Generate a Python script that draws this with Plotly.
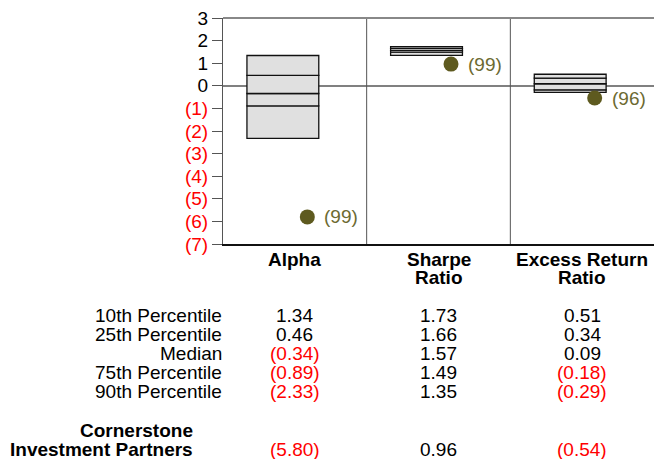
import plotly.graph_objects as go

# Percentile ranges for each statistic (top of box = 10th, bottom = 90th)
categories = ["Alpha", "Sharpe\nRatio", "Excess Return\nRatio"]
row_labels = ["10th Percentile", "25th Percentile", "Median", "75th Percentile", "90th Percentile"]
p10 = [1.34, 1.73, 0.51]
p25 = [0.46, 1.66, 0.34]
median = [-0.34, 1.57, 0.09]
p75 = [-0.89, 1.49, -0.18]
p90 = [-2.33, 1.35, -0.29]
fund_name = "Cornerstone\nInvestment Partners"
fund_values = [-5.80, 0.96, -0.54]
fund_ranks = ["(99)", "(99)", "(96)"]
y_ticks = [3, 2, 1, 0, -1, -2, -3, -4, -5, -6, -7]

FONT = "Liberation Sans, Arial, sans-serif"
RED = "#ff0000"
OLIVE = "#5e5a1f"
OLIVE_TXT = "#6c6a31"
FS = 19

W, H = 654, 459
L, T, B_PX = 223, 18, 244   # plot area pixel edges
Y_TOP, Y_BOT = 3, -7


def fmt(v):
    if v < 0:
        return f"<span style='color:{RED}'>({abs(v):.2f})</span>"
    return f"{v:.2f}"


def tick_fmt(v):
    if v < 0:
        return f"<span style='color:{RED}'>({abs(v)})</span>"
    return str(v)


def py_to_paper(py):
    return (B_PX - py) / (B_PX - T)


def py_to_data(py):
    return Y_TOP - (py - T) * (Y_TOP - Y_BOT) / (B_PX - T)


idx = list(range(len(categories)))
fig = go.Figure()

# stacked segments of each box: 90->75, 75->median, median->25, 25->10
segments = [(p90, p75), (p75, median), (median, p25), (p25, p10)]
for lo, hi in segments:
    fig.add_trace(go.Bar(
        x=idx,
        y=[h - l for l, h in zip(lo, hi)],
        base=lo,
        width=0.5,
        offset=-1 / 3,
        marker=dict(color="#e0e0e0", line=dict(color="#111111", width=1.3)),
        hoverinfo="skip",
        showlegend=False,
    ))

# fund markers
dot_x = [i + 0.087 for i in idx]
fig.add_trace(go.Scatter(
    x=dot_x,
    y=fund_values,
    mode="markers",
    marker=dict(size=15, color=OLIVE),
    showlegend=False,
    cliponaxis=False,
))

# legend dot next to the fund name in the table
fig.add_trace(go.Scatter(
    x=[-0.5 - 1 / 144],
    y=[py_to_data(450)],
    mode="markers",
    marker=dict(size=15, color=OLIVE),
    showlegend=False,
    cliponaxis=False,
))

# column separators and top border
for i in idx[:-1]:
    fig.add_vline(x=i + 0.5, line=dict(color="#555555", width=1))
fig.add_shape(type="line", xref="paper", yref="paper", x0=0, x1=1, y0=1, y1=1,
              line=dict(color="#888888", width=2))

annotations = []
# rank labels beside the dots
for x, v, r in zip(dot_x, fund_values, fund_ranks):
    annotations.append(dict(
        x=x, xref="x", y=v, yref="y", xshift=15, text=r, showarrow=False,
        xanchor="left", yanchor="middle",
        font=dict(size=FS, color=OLIVE_TXT, family=FONT)))

# category labels (bold, tight line spacing)
for i, cat in enumerate(categories):
    for j, part in enumerate(cat.split("\n")):
        annotations.append(dict(
            x=i, xref="x", y=py_to_paper(259 + 18 * j), yref="paper",
            text=f"<b>{part}</b>", showarrow=False, xanchor="center", yanchor="middle",
            font=dict(size=FS, color="#000000", family=FONT)))

# percentile table
row_y = [315, 334, 353, 372, 391]
series = [p10, p25, median, p75, p90]
for label, ry, vals in zip(row_labels, row_y, series):
    annotations.append(dict(
        x=0, xref="paper", y=py_to_paper(ry), yref="paper", xshift=1,
        text=label, showarrow=False, xanchor="right", yanchor="middle",
        font=dict(size=FS, color="#000000", family=FONT)))
    for i, v in enumerate(vals):
        annotations.append(dict(
            x=i, xref="x", y=py_to_paper(ry), yref="paper",
            text=fmt(v), showarrow=False, xanchor="center", yanchor="middle",
            font=dict(size=FS, color="#000000", family=FONT)))

# fund row
for j, part in enumerate(fund_name.split("\n")):
    annotations.append(dict(
        x=0, xref="paper", y=py_to_paper(431 + 19 * j), yref="paper", xshift=-28,
        text=f"<b>{part}</b>", showarrow=False, xanchor="right", yanchor="middle",
        font=dict(size=FS, color="#000000", family=FONT)))
for i, v in enumerate(fund_values):
    annotations.append(dict(
        x=i, xref="x", y=py_to_paper(450), yref="paper",
        text=fmt(v), showarrow=False, xanchor="center", yanchor="middle",
        font=dict(size=FS, color="#000000", family=FONT)))

fig.update_layout(
    width=W, height=H,
    margin=dict(l=L, r=0, t=T, b=H - B_PX, pad=0),
    plot_bgcolor="white", paper_bgcolor="white",
    barmode="overlay",
    showlegend=False,
    hovermode=False,
    font=dict(family=FONT, size=FS, color="#000000"),
    xaxis=dict(range=[-0.5, 2.5], showticklabels=False, showgrid=False, zeroline=False,
               showline=True, linecolor="#111111", linewidth=2, fixedrange=True),
    yaxis=dict(range=[Y_BOT, Y_TOP], tickvals=y_ticks, ticktext=[tick_fmt(v) for v in y_ticks],
               ticks="outside", ticklen=10, tickcolor="#555555", showgrid=False,
               showline=True, linecolor="#555555", linewidth=1,
               zeroline=True, zerolinecolor="#808080", zerolinewidth=2,
               tickfont=dict(size=FS, family=FONT), fixedrange=True),
    annotations=annotations,
)

# drop the browser's default body margin so the figure fills the window
fig.write_html("out.html", config={"displayModeBar": False},
               post_script="document.body.style.margin = '0';")
